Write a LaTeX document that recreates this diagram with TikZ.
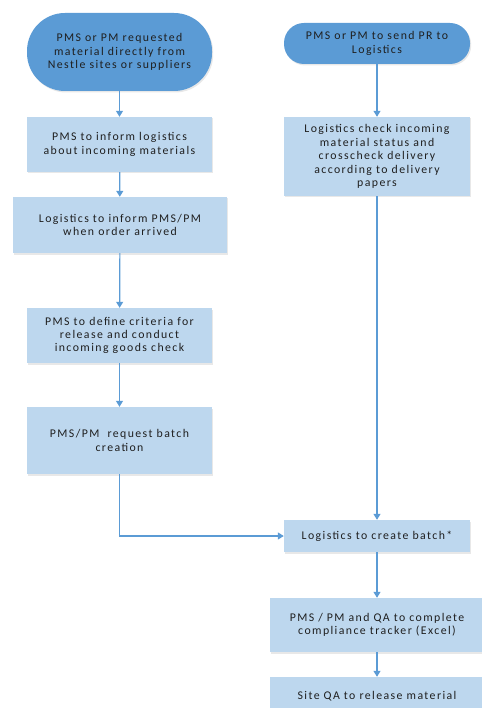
\documentclass[tikz,border=0pt]{standalone}
\usepackage{fontspec}
\setmainfont[LetterSpace=12]{Carlito}
\usetikzlibrary{arrows.meta,shadows}
\definecolor{termblue}{HTML}{5B9BD5}
\definecolor{boxblue}{HTML}{BDD7EE}
\definecolor{linkblue}{HTML}{5B9BD5}
\definecolor{ink}{HTML}{1F1F1F}
\begin{document}
\begin{tikzpicture}[x=1pt,y=-1pt,
  base/.style={align=center, text=ink, font=\fontsize{11.8}{13.4}\selectfont, inner sep=2pt,
    drop shadow={opacity=0.18, shadow xshift=1.2pt, shadow yshift=-1.5pt}},
  terminal/.style={base, fill=termblue},
  stepbox/.style={base, fill=boxblue},
  link/.style={draw=linkblue, line width=1.2pt, -{Triangle[width=7pt,length=6pt]}}]
\useasboundingbox (0,0) rectangle (481,708);
% left column
\node[terminal, rounded corners=38pt, minimum width=185pt, minimum height=78pt] (t1) at (119.5,52)
  {PMS or PM requested\\material directly from\\Nestle sites or suppliers};
\node[stepbox, minimum width=185pt, minimum height=55pt] (b1) at (119.5,144.5)
  {PMS to inform logistics\\about incoming materials};
\node[stepbox, minimum width=214pt, minimum height=56pt] (b3) at (120,225)
  {Logistics to inform PMS/PM\\when order arrived};
\node[stepbox, minimum width=185pt, minimum height=55pt] (b4) at (119.5,335.5)
  {PMS to define criteria for\\release and conduct\\incoming goods check};
\node[stepbox, minimum width=185pt, minimum height=67pt] (b5) at (119.5,440.5)
  {PMS/PM\ \ request batch\\creation};
% right column
\node[terminal, rounded corners=20pt, minimum width=186pt, minimum height=41pt] (t2) at (377,43.5)
  {PMS or PM to send PR to\\Logistics};
\node[stepbox, minimum width=186pt, minimum height=79pt] (b2) at (377,156.5)
  {Logistics check incoming\\material status and\\crosscheck delivery\\according to delivery\\papers};
\node[stepbox, minimum width=186pt, minimum height=32pt] (b6) at (377,536)
  {Logistics to create batch*};
\node[stepbox, minimum width=214pt, minimum height=54pt] (b7) at (377,625)
  {PMS / PM and QA to complete\\compliance tracker (Excel)};
\node[stepbox, minimum width=214pt, minimum height=38pt] (b8) at (377,696)
  {Site QA to release material};
% connectors
\draw[link] (t1) -- (b1);
\draw[link] (b1) -- (b3);
\draw[link] (b3) -- (b4);
\draw[link] (b4) -- (b5);
\draw[link] (t2) -- (b2);
\draw[link] (b2) -- (b6);
\draw[link] (b5.south) |- (b6.west);
\draw[link] (b6) -- (b7);
\draw[link] (b7) -- (b8);
\end{tikzpicture}
\end{document}
